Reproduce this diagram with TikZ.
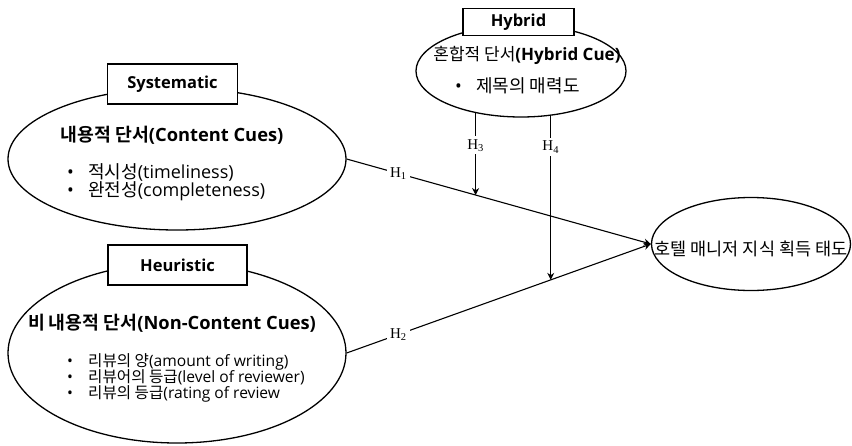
\documentclass[tikz,border=0pt]{standalone}
\usepackage{fontspec}
\setmainfont{Open Sans}
\newfontfamily\kr{Noto Sans CJK KR}[BoldFont={Noto Sans CJK KR Bold}]
\newfontfamily\hypfont{Liberation Serif}
\usepackage{tikz}
\usetikzlibrary{shapes.geometric,arrows.meta,backgrounds}
\newcommand\cuedot{\makebox[21pt][l]{•}}
\lineskiplimit=-20pt

\begin{document}
\begin{tikzpicture}[
  x=1pt, y=-1pt,
  cue/.style={ellipse, draw, line width=1.3pt, fill=white, inner sep=0pt},
  tag/.style={rectangle, draw, line width=1.3pt, fill=white, inner sep=0pt,
    font=\fontsize{16.5}{18}\selectfont\bfseries},
  title/.style={font=\fontsize{18.3}{20}\selectfont\bfseries},
  items/.style={align=left, anchor=west, inner sep=0pt,
    font=\fontsize{18}{18}\selectfont},
  hyp/.style={fill=white, inner sep=3pt, font=\hypfont\fontsize{15}{17}\selectfont},
  arrow/.style={-{Stealth[length=7pt, width=7pt]}, line width=1.1pt},
]
  \useasboundingbox (0,0) rectangle (852,445);

  \node[cue, minimum width=338pt, minimum height=142pt] (sys) at (177,159) {};
  \node[tag, minimum width=130pt, minimum height=40pt] (systag) at (172.5,84) {Systematic};
  \node[title] (systitle) at (172,135) {{\kr 내용적 단서}(Content Cues)};
  \node[items] (sysitems) at (67,182) {\cuedot{\kr 적시성}(timeliness)\\\cuedot{\kr 완전성}(completeness)};

  \node[cue, minimum width=338pt, minimum height=180pt] (heu) at (177,353) {};
  \node[tag, minimum width=139pt, minimum height=40pt] (heutag) at (177.5,265) {Heuristic};
  \node[title] (heutitle) at (172,323) {{\kr 비 내용적 단서}(Non-Content Cues)};
  \node[items, font=\fontsize{15.6}{16.2}\selectfont] (heuitems) at (67,378)
    {\cuedot{\kr 리뷰의 양}(amount of writing)\\\cuedot{\kr 리뷰어의 등급}(level of reviewer)\\\cuedot{\kr 리뷰의 등급}(rating of review};

  \node[cue, minimum width=210pt, minimum height=92pt] (hyb) at (521,71) {};
  \node[tag, minimum width=111pt, minimum height=27pt] (hybtag) at (518.5,22) {Hybrid};
  \node[font=\fontsize{17}{20}\selectfont] (hybtitle) at (527,55) {{\kr 혼합적 단서}\textbf{(Hybrid Cue)}};
  \node[items] (hybitems) at (455,86) {\cuedot{\kr 제목의 매력도}};

  \node[cue, minimum width=199pt, minimum height=93pt] (att) at (751,244) {};
  \node[font=\fontsize{17.5}{20}\selectfont\kr] (atttext) at (751,249) {호텔 매니저 지식 획득 태도};

  \draw[arrow] (sys.east) -- node[hyp, pos=0.17] (h1) {H\textsubscript{1}}
    coordinate[pos=0.424] (m3) (att.west);
  \draw[arrow] (heu.east) -- node[hyp, pos=0.17] (h2) {H\textsubscript{2}}
    coordinate[pos=0.671] (m4) (att.west);

  \begin{scope}[on background layer]
    \draw[arrow] (m3 |- hyb.center) -- node[hyp, pos=0.6] (h3) {H\textsubscript{3}} (m3);
    \draw[arrow] (m4 |- hyb.center) -- node[hyp, pos=0.364] (h4) {H\textsubscript{4}} (m4);
  \end{scope}
\end{tikzpicture}
\end{document}
